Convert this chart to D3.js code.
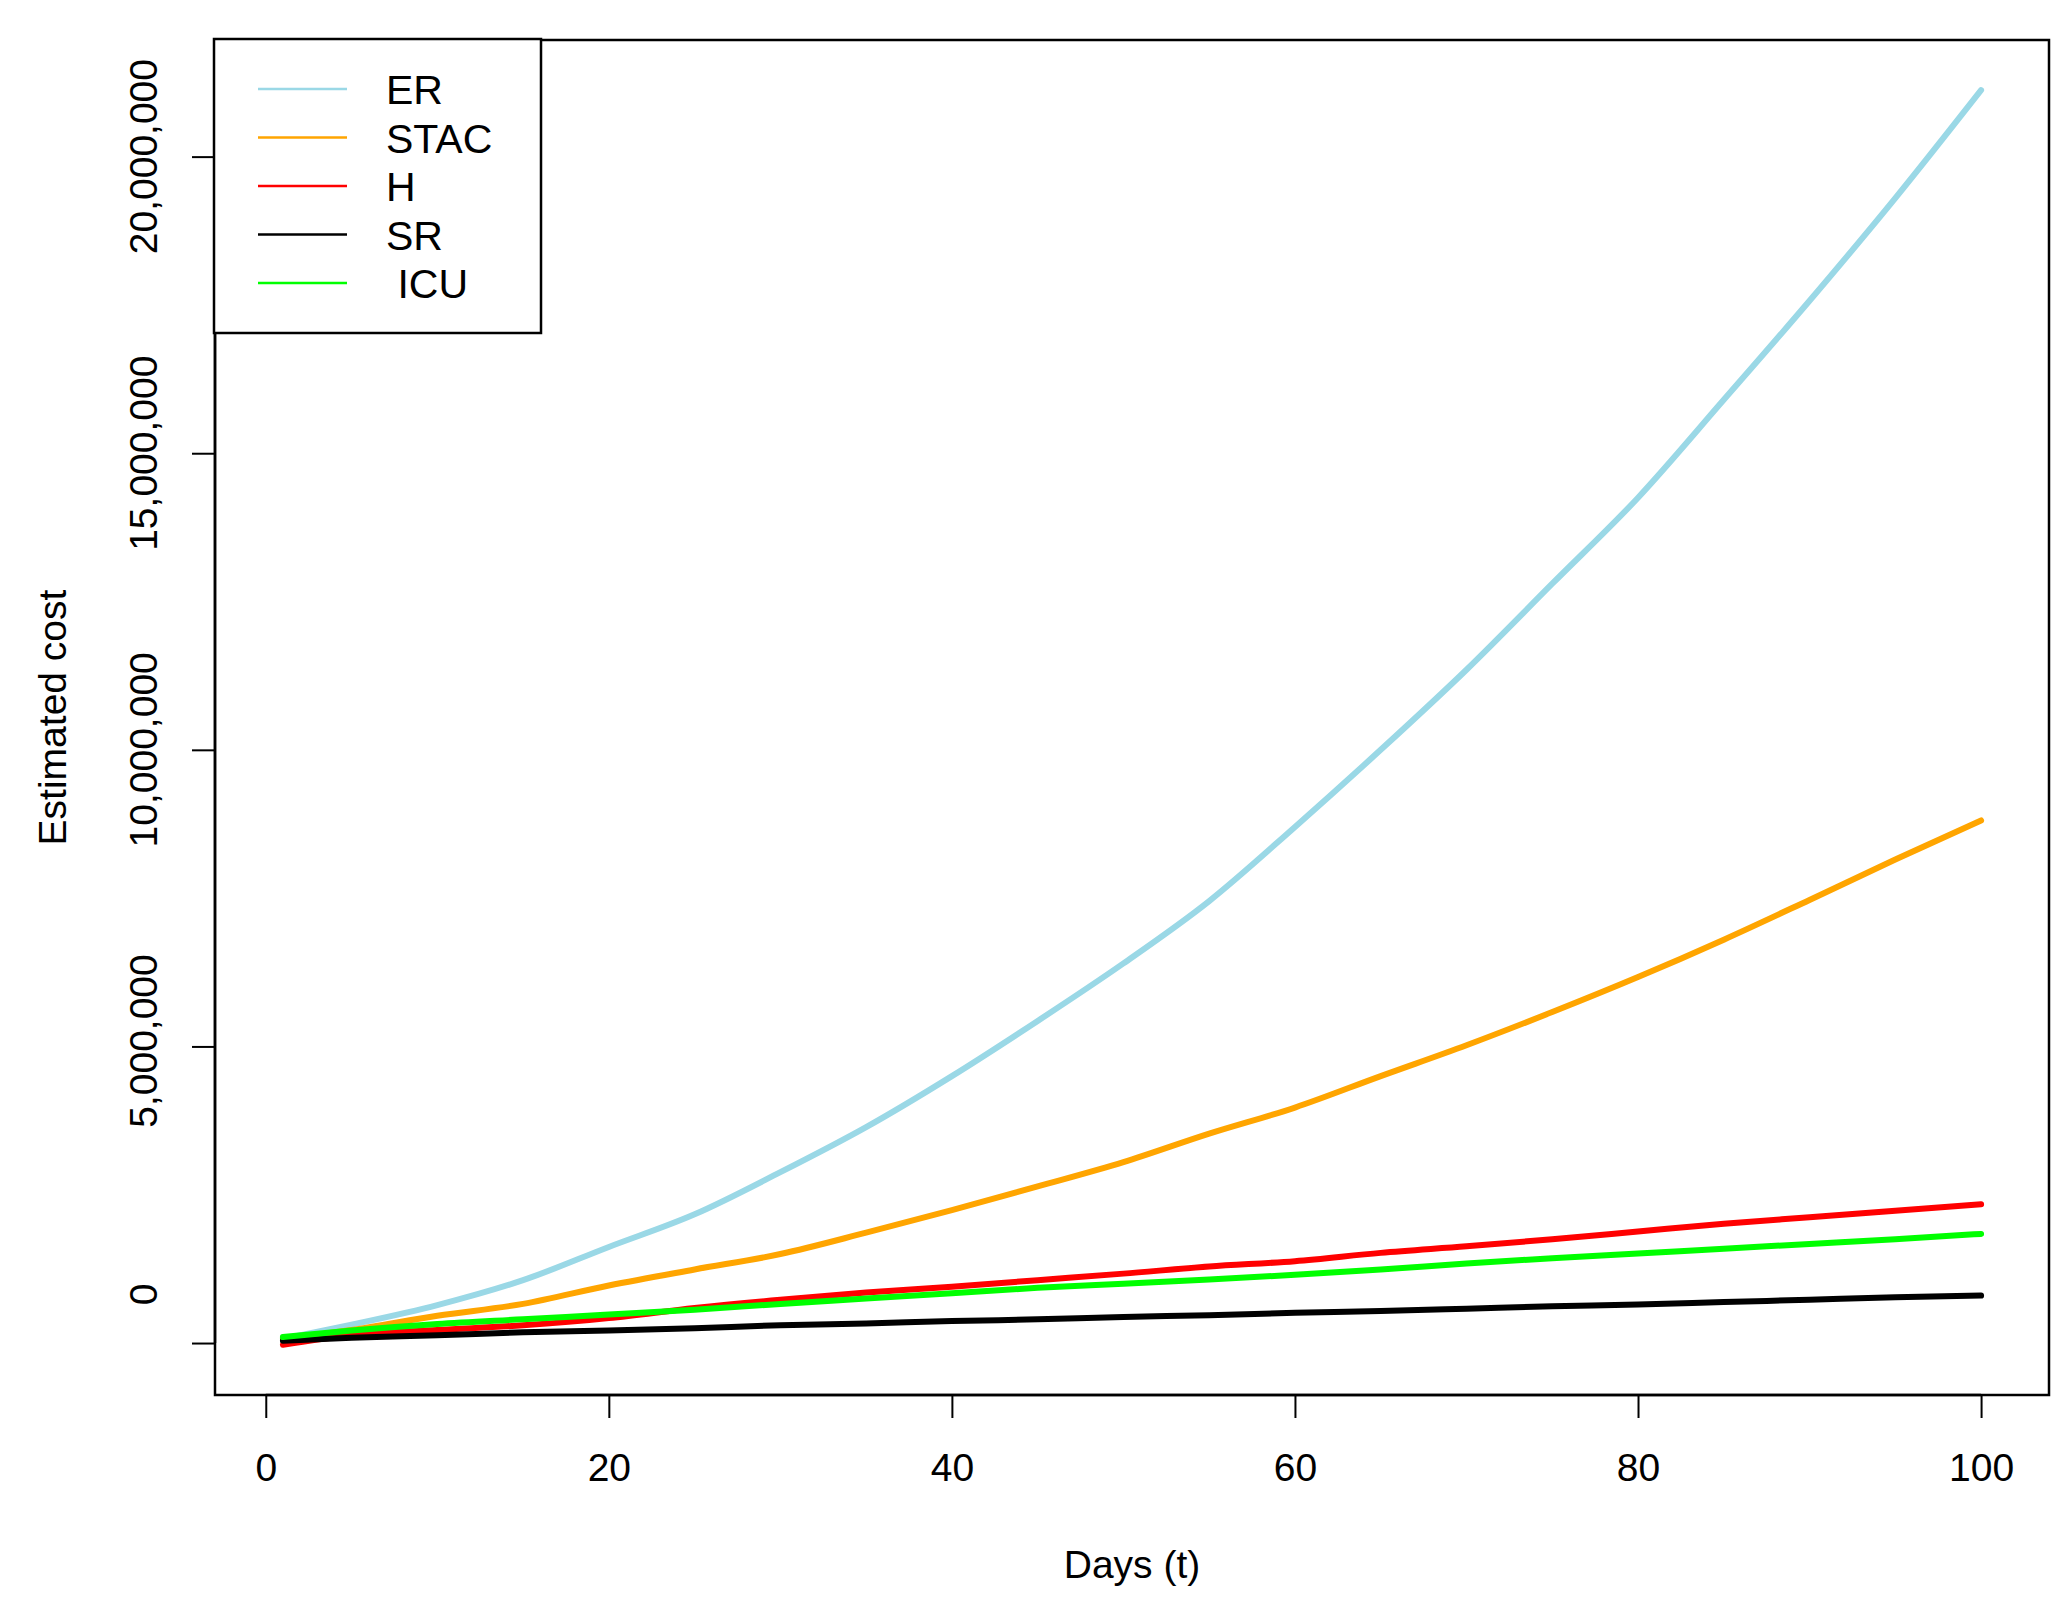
<!DOCTYPE html>
<html>
<head>
<meta charset="utf-8">
<script src="https://cdn.jsdelivr.net/npm/d3@7"></script>
<style>
  html, body { margin: 0; padding: 0; background: #fff; }
  svg { display: block; }
  text { font-family: "Liberation Sans", Arial, sans-serif; fill: #000; white-space: pre; }
</style>
</head>
<body>
<script>
// ---- data (values in currency units) ----
const days = [1, 5, 10, 15, 20, 25, 30, 35, 40, 45, 50, 55, 60, 65, 70, 75, 80, 85, 90, 95, 100];
const costER   = [70000, 310000, 640000, 1060000, 1620000, 2170000, 2880000, 3640000, 4500000, 5430000, 6400000, 7450000, 8700000, 10000000, 11350000, 12800000, 14250000, 15900000, 17570000, 19300000, 21120000];
const costSTAC = [70000, 220000, 460000, 660000, 970000, 1240000, 1500000, 1860000, 2240000, 2640000, 3050000, 3530000, 3970000, 4500000, 5020000, 5580000, 6170000, 6800000, 7470000, 8150000, 8810000];
const costH    = [-30000, 130000, 220000, 300000, 420000, 590000, 730000, 850000, 950000, 1060000, 1170000, 1290000, 1380000, 1520000, 1630000, 1750000, 1880000, 2010000, 2120000, 2230000, 2340000];
const costSR   = [40000, 90000, 130000, 180000, 210000, 250000, 300000, 330000, 370000, 400000, 440000, 470000, 510000, 540000, 580000, 620000, 650000, 690000, 730000, 770000, 800000];
const costICU  = [100000, 210000, 320000, 400000, 480000, 560000, 660000, 750000, 840000, 930000, 1000000, 1070000, 1150000, 1240000, 1340000, 1430000, 1510000, 1590000, 1670000, 1750000, 1840000];

const seriesNames  = ["ER", "STAC", "H", "SR", "ICU"];
const legendLabels = ["ER", "STAC", "H", "SR", " ICU"];
const seriesColors = ["#9ad8e6", "#ffa500", "#ff0000", "#000000", "#00ff00"];
const seriesValues = [costER, costSTAC, costH, costSR, costICU];

const xTicks = [0, 20, 40, 60, 80, 100];
const yTicks = [0, 5000000, 10000000, 15000000, 20000000];
// R's format() pads the labels to a common width with leading spaces
const yTickLabels = ["         0", " 5,000,000", "10,000,000", "15,000,000", "20,000,000"];
const xTitle = "Days (t)";
const yTitle = "Estimated cost";

// ---- layout ----
const W = 2069, H = 1602;
const plot = { left: 215, right: 2049, top: 40, bottom: 1395 };
const FS = 39;

const svg = d3.select("body").append("svg").attr("width", W).attr("height", H);

// R-style 4% axis extension
const xExt = d3.extent(days);
const xPad = (xExt[1] - xExt[0]) * 0.04;
const allY = seriesValues.flat();
const yExt = d3.extent(allY);
const yPad = (yExt[1] - yExt[0]) * 0.04;

const x = d3.scaleLinear().domain([xExt[0] - xPad, xExt[1] + xPad]).range([plot.left, plot.right]);
const y = d3.scaleLinear().domain([yExt[0] - yPad, yExt[1] + yPad]).range([plot.bottom, plot.top]);

// ---- lines ----
const line = d3.line().x((d, i) => x(days[i])).y(d => y(d)).curve(d3.curveMonotoneX);
const g = svg.append("g");
seriesValues.forEach((vals, k) => {
  g.append("path")
    .datum(vals)
    .attr("d", line)
    .attr("fill", "none")
    .attr("stroke", seriesColors[k])
    .attr("stroke-width", 6)
    .attr("stroke-linecap", "round")
    .attr("stroke-linejoin", "round");
});

// ---- box ----
svg.append("rect")
  .attr("x", plot.left).attr("y", plot.top)
  .attr("width", plot.right - plot.left).attr("height", plot.bottom - plot.top)
  .attr("fill", "none").attr("stroke", "#000").attr("stroke-width", 2.5);

// ---- x axis ----
const xAxis = d3.axisBottom(x).tickValues(xTicks).tickSize(23).tickSizeOuter(0).tickFormat(d3.format("d"));
const gx = svg.append("g").attr("transform", `translate(0,${plot.bottom})`).call(xAxis);
gx.select(".domain").remove();
gx.append("line")
  .attr("x1", x(xTicks[0])).attr("x2", x(xTicks[xTicks.length - 1]))
  .attr("stroke", "#000").attr("stroke-width", 2.5);
gx.selectAll(".tick line").attr("stroke-width", 2);
gx.selectAll(".tick text")
  .attr("y", 86).attr("dy", 0)
  .style("font-size", FS + "px")
  .style("font-family", "'Liberation Sans', Arial, sans-serif")
  .attr("fill", "#000");

// ---- y axis ----
const yAxis = d3.axisLeft(y).tickValues(yTicks).tickSize(23).tickSizeOuter(0).tickFormat("");
const gy = svg.append("g").attr("transform", `translate(${plot.left},0)`).call(yAxis);
gy.select(".domain").remove();
gy.append("line")
  .attr("y1", y(yTicks[0])).attr("y2", y(yTicks[yTicks.length - 1]))
  .attr("stroke", "#000").attr("stroke-width", 2.5);
gy.selectAll(".tick line").attr("stroke-width", 2);
yTicks.forEach((v, i) => {
  svg.append("text")
    .attr("transform", `translate(157,${y(v)}) rotate(-90)`)
    .attr("text-anchor", "middle")
    .attr("xml:space", "preserve")
    .style("font-size", FS + "px")
    .text(yTickLabels[i]);
});

// ---- axis titles ----
svg.append("text")
  .attr("x", (plot.left + plot.right) / 2).attr("y", 1578)
  .attr("text-anchor", "middle")
  .style("font-size", FS + "px")
  .text(xTitle);
svg.append("text")
  .attr("transform", `translate(66,${(plot.top + plot.bottom) / 2}) rotate(-90)`)
  .attr("text-anchor", "middle")
  .style("font-size", FS + "px")
  .text(yTitle);

// ---- legend ----
const leg = { x: 214, y: 39, w: 327, h: 294 };
svg.append("rect")
  .attr("x", leg.x).attr("y", leg.y).attr("width", leg.w).attr("height", leg.h)
  .attr("fill", "#fff").attr("stroke", "#000").attr("stroke-width", 2.5);
const legY = d3.scalePoint().domain(seriesNames).range([89, 283]);
seriesNames.forEach((name, k) => {
  svg.append("line")
    .attr("x1", 258).attr("x2", 347)
    .attr("y1", legY(name)).attr("y2", legY(name))
    .attr("stroke", seriesColors[k]).attr("stroke-width", 2.5);
  svg.append("text")
    .attr("x", 386).attr("y", legY(name) + 15)
    .attr("xml:space", "preserve")
    .style("font-size", "41px")
    .text(legendLabels[k]);
});
</script>
</body>
</html>
